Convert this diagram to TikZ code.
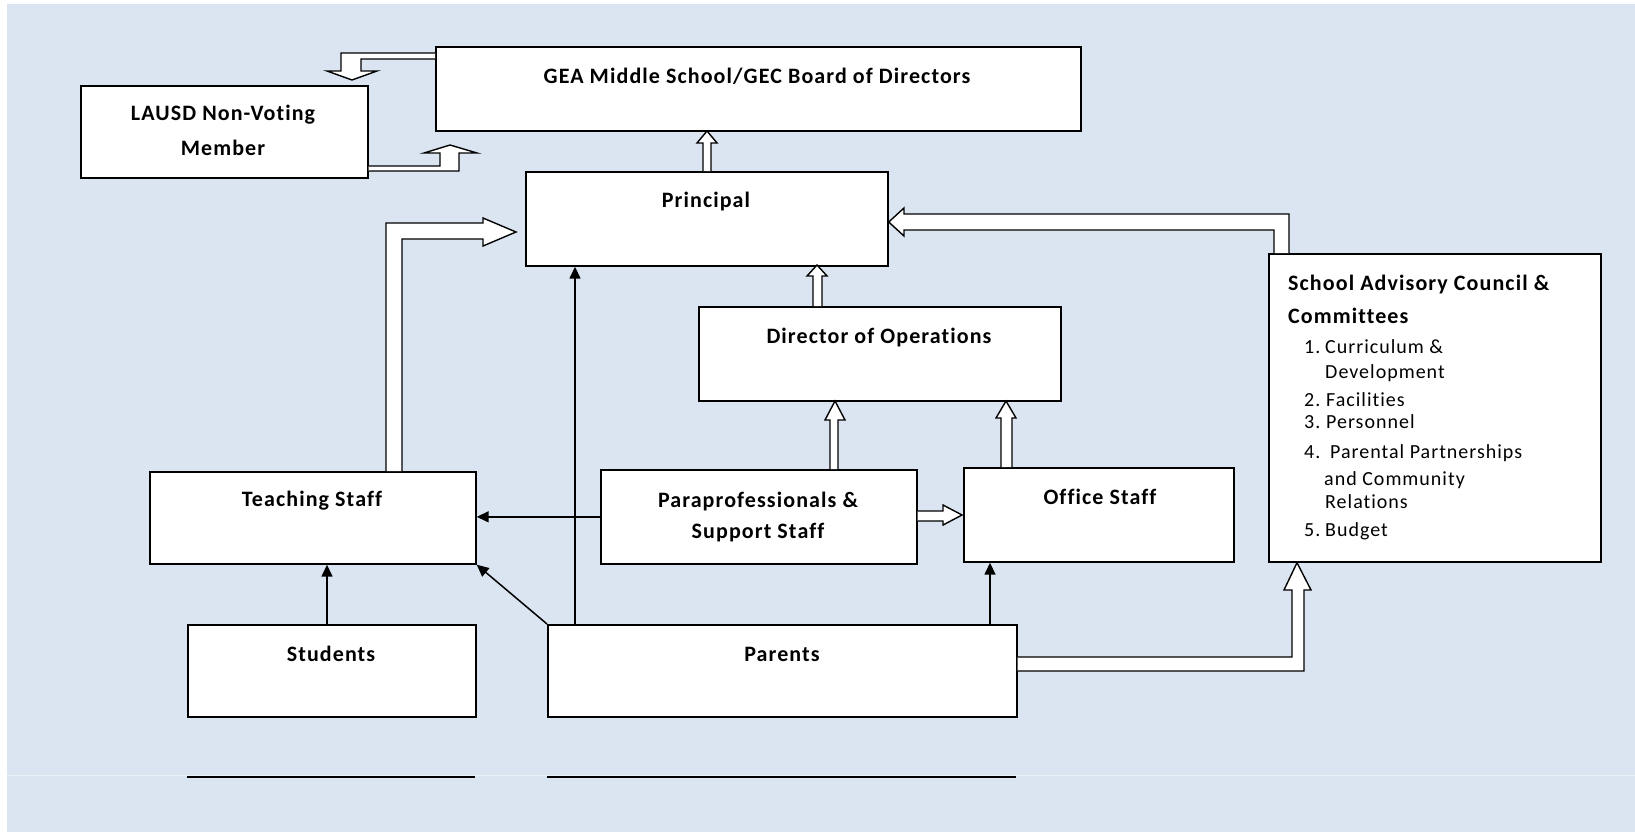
\documentclass[tikz,border=0pt]{standalone}
\usepackage{fontspec}
\setmainfont{Carlito}[LetterSpace=5,Ligatures=NoCommon]
\usetikzlibrary{arrows.meta,calc}
\definecolor{bgblue}{HTML}{DBE5F1}
\tikzset{
  box/.style={draw=black, line width=1.7pt, fill=white, anchor=north west, inner sep=0pt},
  lbl/.style={font=\fontsize{22}{26}\selectfont\bfseries, text height=15pt, text depth=4pt, inner sep=0pt},
  hdr/.style={lbl, anchor=west},
  item/.style={font=\fontsize{20}{24}\selectfont, anchor=west, inner sep=0pt, text height=14pt, text depth=4pt},
  hol/.style={draw=black, line width=1.4pt, fill=white, line join=miter},
  farrow/.style={draw=black, line width=1.5pt, -{Triangle[length=12pt,width=11pt]}},
}
\begin{document}
\begin{tikzpicture}[x=1pt,y=-1pt]
\useasboundingbox (0,0) rectangle (1635,832);
\fill[white] (0,0) rectangle (1635,832);
\fill[bgblue] (7,4) rectangle (1635,832);
\draw[white!45!bgblue, line width=1pt] (7,775) -- (1635,775);

% boxes
\node[box, minimum width=645pt, minimum height=84pt] (gea) at (435,46) {};
\node[box, minimum width=287pt, minimum height=92pt] (lausd) at (80,85) {};
\node[box, minimum width=362pt, minimum height=94pt] (prin) at (525,171) {};
\node[box, minimum width=362pt, minimum height=94pt] (dir) at (698,306) {};
\node[box, minimum width=332pt, minimum height=308pt] (sac) at (1268,253) {};
\node[box, minimum width=326pt, minimum height=92pt] (teach) at (149,471) {};
\node[box, minimum width=316pt, minimum height=94pt] (para) at (600,469) {};
\node[box, minimum width=270pt, minimum height=94pt] (office) at (963,467) {};
\node[box, minimum width=288pt, minimum height=92pt] (stu) at (187,624) {};
\node[box, minimum width=469pt, minimum height=92pt] (parents) at (547,624) {};

% labels
\node[lbl] (geaT) at (757,78) {GEA Middle School/GEC Board of Directors};
\node[lbl] (lausdA) at (223,115) {LAUSD Non-Voting};
\node[lbl] (lausdB) at (223,150) {Member};
\node[lbl] (prinT) at (706,202) {Principal};
\node[lbl] (dirT) at (879,338) {Director of Operations};
\node[lbl] (teachT) at (312,501) {Teaching Staff};
\node[lbl] (paraA) at (758,502) {Paraprofessionals \&};
\node[lbl] (paraB) at (758,533) {Support Staff};
\node[lbl] (officeT) at (1100,499) {Office Staff};
\node[lbl] (stuT) at (331,656) {Students};
\node[lbl] (parT) at (782,656) {Parents};

\node[hdr] (sacA) at (1288,285) {School Advisory Council \&};
\node[hdr] (sacB) at (1288,318) {Committees};
\node[item] (i1) at (1304,348) {\makebox[21pt][l]{1.}Curriculum \&};
\node[item] (i1b) at (1325,373) {Development};
\node[item] (i2) at (1304,401) {\makebox[22pt][l]{2.}Facilities};
\node[item] (i3) at (1304,423) {\makebox[22pt][l]{3.}Personnel};
\node[item] (i4) at (1304,453) {\makebox[26pt][l]{4.}Parental Partnerships};
\node[item] (i4b) at (1324,480) {and Community};
\node[item] (i4c) at (1325,503) {Relations};
\node[item] (i5) at (1304,531) {\makebox[21pt][l]{5.}Budget};

% filled arrows
\draw[farrow] (para.west) -- (para.west -| teach.east);
\draw[farrow] (stu.north -| 327,0) -- (teach.south -| 327,0);
\draw[farrow] (parents.north west) -- (teach.south east);
\draw[farrow] (parents.north -| 575,0) -- (prin.south -| 575,0);
\draw[farrow] (parents.north -| 990,0) -- (office.south -| 990,0);

% hollow block arrows
% GEA -> LAUSD
\draw[hol] (gea.west |- 0,53) -- (341,53) -- (341,71) -- (327,71) -- (352,80) -- (377,71) -- (361,71) -- (361,59) -- (gea.west |- 0,59);
% LAUSD -> GEA
\draw[hol] (lausd.east |- 0,171) -- (459,171) -- (459,153) -- (477,153) -- (450,145) -- (424,153) -- (440,153) -- (440,166) -- (lausd.east |- 0,166);
% Principal -> GEA
\draw[hol] (prin.north -| 703,0) -- (703,143) -- (697,143) -- (707,131) -- (717,143) -- (711,143) -- (prin.north -| 711,0);
% Director -> Principal
\draw[hol] (dir.north -| 813,0) -- (813,276) -- (807,276) -- (817,265) -- (827,276) -- (822,276) -- (dir.north -| 822,0);
% Para -> Director
\draw[hol] (para.north -| 830,0) -- (830,420) -- (825,420) -- (835,401) -- (845,420) -- (838,420) -- (para.north -| 838,0);
% Office -> Director
\draw[hol] (office.north -| 1001,0) -- (1001,418) -- (996,418) -- (1006,401) -- (1016,418) -- (1012,418) -- (office.north -| 1012,0);
% Para -> Office
\draw[hol] (para.east |- 0,511) -- (943,511) -- (943,505) -- (962,515) -- (943,525) -- (943,521) -- (para.east |- 0,521);
% Teaching -> Principal
\draw[hol] (teach.north -| 386,0) -- (386,223) -- (483,223) -- (483,218) -- (516,232) -- (483,246) -- (483,239) -- (402,239) -- (teach.north -| 402,0);
% SAC -> Principal
\draw[hol] (sac.north -| 1289,0) -- (1289,214) -- (904,214) -- (904,208) -- (prin.east |- 0,222) -- (904,236) -- (904,230) -- (1274,230) -- (sac.north -| 1274,0);
% Parents -> SAC
\draw[hol] (parents.east |- 0,657) -- (1292,657) -- (1292,590) -- (1284,590) -- (sac.south -| 1297,0) -- (1311,590) -- (1304,590) -- (1304,671) -- (parents.east |- 0,671);

% lines under boxes
\draw[line width=2.2pt] (187,777) -- (475,777);
\draw[line width=2.2pt] (547,777) -- (1016,777);
\end{tikzpicture}
\end{document}
